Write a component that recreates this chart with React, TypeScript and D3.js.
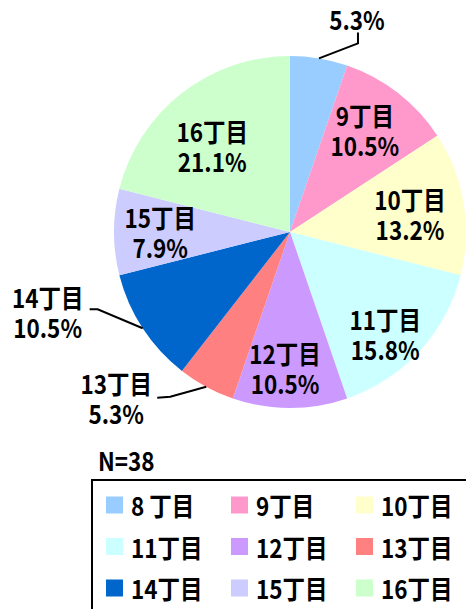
import React from "react";
import * as d3 from "d3";

const categories = ["8 丁目", "9丁目", "10丁目", "11丁目", "12丁目", "13丁目", "14丁目", "15丁目", "16丁目"];
const sliceLabels = ["8丁目", "9丁目", "10丁目", "11丁目", "12丁目", "13丁目", "14丁目", "15丁目", "16丁目"];
const counts = [2, 4, 5, 6, 4, 2, 4, 3, 8];
const percents = ["5.3%", "10.5%", "13.2%", "15.8%", "10.5%", "5.3%", "10.5%", "7.9%", "21.1%"];
const colors = ["#99CCFF", "#FF99CC", "#FFFFCC", "#CCFFFF", "#CC99FF", "#FF8080", "#0066CC", "#CCCCFF", "#CCFFCC"];
const totalLabel = "N=38";

const W = 466, H = 609;
const cx = 290, cy = 232, R = 176;
const FONT = "'Noto Sans CJK JP', 'Noto Sans', sans-serif";
const FS = 22.5;
const SY = 1.14;

const inside: Record<number, [number, number]> = {
  1: [-3, -2], 2: [-5, 3], 3: [2, 16], 4: [-5, 9], 7: [-3, 0], 8: [0, 14],
};
const outside: Record<number, { elbow: [number, number]; end: [number, number]; label: [number, number]; showName: boolean }> = {
  0: { elbow: [39, -15], end: [39, -26], label: [38, -40], showName: false },
  5: { elbow: [-36, 10], end: [-49, 11], label: [-90, 11], showName: true },
  6: { elbow: [-45, -19], end: [-53, -19], label: [-95, -16], showName: true },
};

function T({ x, y, children, anchor = "middle", weight = 700 }: { x: number; y: number; children: React.ReactNode; anchor?: string; weight?: number }) {
  return (
    <text
      transform={`translate(${x},${y}) scale(1,${SY})`}
      textAnchor={anchor as any}
      dominantBaseline="central"
      style={{ fontFamily: FONT, fontSize: FS, fontWeight: weight, fill: "#000" }}
    >
      {children}
    </text>
  );
}

export default function App() {
  const pie = d3.pie<number>().sort(null).value((d) => d).startAngle(0).endAngle(2 * Math.PI);
  const arcs = pie(counts);
  const arc = d3.arc<d3.PieArcDatum<number>>().innerRadius(0).outerRadius(R);
  const labelArc = d3.arc<d3.PieArcDatum<number>>().innerRadius(R * 0.72).outerRadius(R * 0.72);
  const edgeArc = d3.arc<d3.PieArcDatum<number>>().innerRadius(R).outerRadius(R);

  return (
    <svg width={W} height={H} style={{ position: "absolute", left: 0, top: 0 }}>
      <rect width={W} height={H} fill="#fff" />
      <g transform={`translate(${cx},${cy})`}>
        {arcs.map((a, i) => (
          <path key={i} d={arc(a) || ""} fill={colors[i]} />
        ))}
      </g>
      {arcs.map((a, i) => {
        if (inside[i]) {
          const [x, y] = labelArc.centroid(a);
          const [nx, ny] = inside[i];
          const px = cx + x + nx, py = cy + y + ny;
          return (
            <g key={"l" + i}>
              <T x={px} y={py - 15}>{sliceLabels[i]}</T>
              <T x={px} y={py + 15}>{percents[i]}</T>
            </g>
          );
        }
        const o = outside[i];
        const [ex, ey] = edgeArc.centroid(a);
        const sx = cx + ex, sy = cy + ey;
        const pts: [number, number][] = [[sx, sy], [sx + o.elbow[0], sy + o.elbow[1]], [sx + o.end[0], sy + o.end[1]]];
        const lx = sx + o.label[0], ly = sy + o.label[1];
        return (
          <g key={"l" + i}>
            <path d={d3.line()(pts) || ""} fill="none" stroke="#000" strokeWidth={2} />
            {o.showName ? (
              <>
                <T x={lx} y={ly - 15}>{sliceLabels[i]}</T>
                <T x={lx} y={ly + 15}>{percents[i]}</T>
              </>
            ) : (
              <T x={lx} y={ly}>{percents[i]}</T>
            )}
          </g>
        );
      })}
      <T x={98} y={460} anchor="start" weight={600}>{totalLabel}</T>
      <rect x={92} y={480} width={400} height={200} fill="#fff" stroke="#000" strokeWidth={2} />
      {categories.map((c, i) => {
        const col = i % 3, row = Math.floor(i / 3);
        const x = 106 + col * 125, y = 505 + row * 41.5;
        return (
          <g key={"g" + i}>
            <rect x={x} y={y - 8.5} width={17} height={17} fill={colors[i]} />
            <T x={x + 25} y={y} anchor="start">{c}</T>
          </g>
        );
      })}
    </svg>
  );
}
